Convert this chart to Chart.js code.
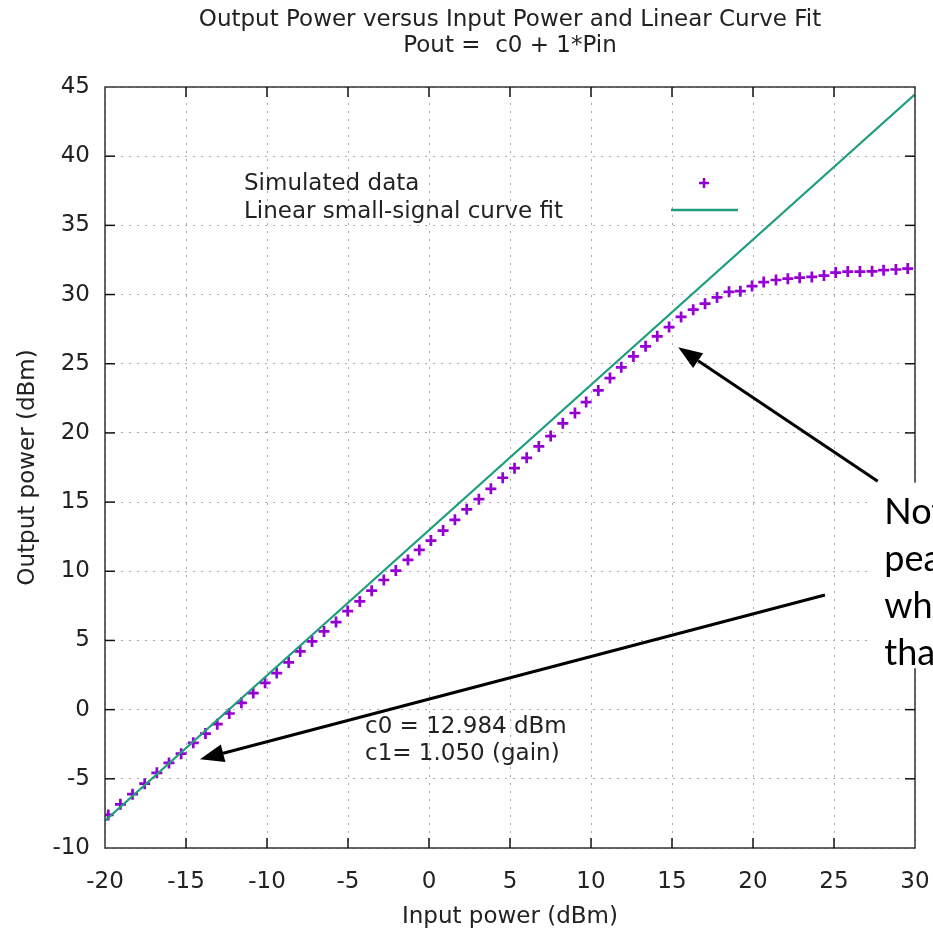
<!DOCTYPE html>
<html>
<head>
<meta charset="utf-8">
<script src="https://cdn.jsdelivr.net/npm/chart.js@4.4.1/dist/chart.umd.min.js"></script>
<style>
  html, body { margin: 0; padding: 0; background: #fff; }
  #wrap { width: 933px; height: 931px; }
</style>
</head>
<body>
<div id="wrap"><canvas id="power-chart" width="933" height="931"></canvas></div>
<script>
// simulated input / output power (dBm)
var pinData = [
    -19.80, -19.05, -18.30, -17.55, -16.80, -16.05, -15.30, -14.55, -13.80, -13.07,
    -12.33, -11.58, -10.85, -10.12, -9.40, -8.66, -7.95, -7.22, -6.48, -5.74,
    -5.02, -4.27, -3.54, -2.79, -2.05, -1.30, -0.60, 0.12, 0.87, 1.60,
    2.33, 3.08, 3.82, 4.55, 5.28, 6.03, 6.78, 7.51, 8.26, 9.01,
    9.70, 10.45, 11.17, 11.87, 12.62, 13.37, 14.09, 14.82, 15.56, 16.31,
    17.04, 17.78, 18.52, 19.22, 19.94, 20.66, 21.42, 22.15, 22.88, 23.63,
    24.38, 25.10, 25.85, 26.60, 27.35, 28.06, 28.82, 29.55
];
var poutData = [
    -7.61, -6.84, -6.11, -5.35, -4.57, -3.85, -3.18, -2.40, -1.73, -1.05,
    -0.28, 0.49, 1.20, 1.94, 2.64, 3.41, 4.21, 4.93, 5.65, 6.33,
    7.12, 7.82, 8.60, 9.37, 10.05, 10.82, 11.54, 12.22, 12.94, 13.72,
    14.48, 15.21, 15.96, 16.76, 17.45, 18.20, 19.02, 19.77, 20.69, 21.44,
    22.23, 23.07, 23.96, 24.74, 25.53, 26.26, 26.98, 27.65, 28.38, 28.91,
    29.34, 29.79, 30.20, 30.24, 30.61, 30.90, 31.05, 31.15, 31.22, 31.27,
    31.37, 31.59, 31.66, 31.66, 31.68, 31.76, 31.81, 31.88
];
// linear small-signal fit, end points
var fitPin = [-20, 30];
var fitPout = [-8.02, 44.48];

var xRange = [-20, 30];
var yRange = [-10, 45];
var tickStep = 5;

var seriesLabels = ["Simulated data", "Linear small-signal curve fit"];
var titleLines = ["Output Power versus Input Power and Linear Curve Fit", "Pout =  c0 + 1*Pin"];
var fitText = ["c0 = 12.984 dBm", "c1= 1.050 (gain)"];
var noteText = ["Not", "pea", "whe", "tha"];

var FONT = "'DejaVu Sans', Verdana, sans-serif";
var PURPLE = "#9400d3";
var GREEN = "#1f9e7f";

function line(ctx, x1, y1, x2, y2) {
    ctx.beginPath();
    ctx.moveTo(x1, y1);
    ctx.lineTo(x2, y2);
    ctx.stroke();
}

function arrow(ctx, x1, y1, x2, y2) {
    var ang = Math.atan2(y2 - y1, x2 - x1);
    var len = 24, half = 9;
    var bx = x2 - len * Math.cos(ang), by = y2 - len * Math.sin(ang);
    ctx.lineWidth = 3;
    line(ctx, x1, y1, bx, by);
    ctx.beginPath();
    ctx.moveTo(x2, y2);
    ctx.lineTo(bx + half * Math.sin(ang), by - half * Math.cos(ang));
    ctx.lineTo(bx - half * Math.sin(ang), by + half * Math.cos(ang));
    ctx.closePath();
    ctx.fill();
}

var gnuplotLook = {
    id: "gnuplotLook",
    beforeDraw: function (chart) {
        var ctx = chart.ctx;
        ctx.save();
        ctx.fillStyle = "#fff";
        ctx.fillRect(0, 0, chart.width, chart.height);
        ctx.restore();
    },
    afterDraw: function (chart) {
        var ctx = chart.ctx, a = chart.chartArea;
        var xs = chart.scales.x, ys = chart.scales.y;
        ctx.save();

        // frame and inward ticks
        ctx.strokeStyle = "#333";
        ctx.lineWidth = 1.5;
        ctx.strokeRect(a.left, a.top, a.right - a.left, a.bottom - a.top);
        ctx.strokeStyle = "#111";
        xs.ticks.forEach(function (t) {
            if (t.value <= xRange[0] || t.value >= xRange[1]) return;
            var px = xs.getPixelForValue(t.value);
            line(ctx, px, a.bottom, px, a.bottom - 10);
            line(ctx, px, a.top, px, a.top + 10);
        });
        ys.ticks.forEach(function (t) {
            if (t.value <= yRange[0] || t.value >= yRange[1]) return;
            var py = ys.getPixelForValue(t.value);
            line(ctx, a.left, py, a.left + 10, py);
            line(ctx, a.right, py, a.right - 10, py);
        });

        // title, centred on the plot
        var cx = (a.left + a.right) / 2;
        ctx.fillStyle = "#222";
        ctx.font = "23px " + FONT;
        ctx.textAlign = "center";
        ctx.textBaseline = "middle";
        ctx.fillText(titleLines[0], cx, 20);
        ctx.fillText(titleLines[1], cx, 46);

        // key
        ctx.textAlign = "left";
        ctx.fillText(seriesLabels[0], a.left + 139, a.top + 97);
        ctx.fillText(seriesLabels[1], a.left + 139, a.top + 125);
        var kx = a.left + 599, ky = a.top + 96;
        ctx.strokeStyle = PURPLE;
        ctx.lineWidth = 2.5;
        line(ctx, kx - 5, ky, kx + 5, ky);
        line(ctx, kx, ky - 5, kx, ky + 5);
        ctx.strokeStyle = GREEN;
        line(ctx, a.left + 566, a.top + 123, a.left + 633, a.top + 123);

        // fit coefficients
        ctx.fillStyle = "#222";
        ctx.textBaseline = "alphabetic";
        ctx.fillText(fitText[0], xs.getPixelForValue(-3.95), ys.getPixelForValue(-1.7));
        ctx.fillText(fitText[1], xs.getPixelForValue(-3.95), ys.getPixelForValue(-3.65));

        // white box behind the note, running off the right edge
        var boxL = xs.getPixelForValue(27.2);
        var boxT = ys.getPixelForValue(16.4);
        var boxB = ys.getPixelForValue(3.0);
        ctx.fillStyle = "#fff";
        ctx.fillRect(boxL, boxT, chart.width - boxL, boxB - boxT);

        // arrows
        ctx.strokeStyle = "#000";
        ctx.fillStyle = "#000";
        arrow(ctx, xs.getPixelForValue(27.7), ys.getPixelForValue(16.5),
                   xs.getPixelForValue(15.38), ys.getPixelForValue(26.19));
        arrow(ctx, xs.getPixelForValue(24.44), ys.getPixelForValue(8.29),
                   xs.getPixelForValue(-14.14), ys.getPixelForValue(-3.59));

        // note text (cut by the page edge)
        ctx.font = "36px Lato, 'Open Sans', sans-serif";
        ctx.fillStyle = "#000";
        var nx = xs.getPixelForValue(28.1);
        var base = [13.4, 10.0, 6.6, 3.2];
        noteText.forEach(function (s, i) {
            ctx.fillText(s, nx, ys.getPixelForValue(base[i]));
        });
        ctx.restore();
    }
};

var simPoints = pinData.map(function (p, i) { return { x: p, y: poutData[i] }; });
var fitPoints = fitPin.map(function (p, i) { return { x: p, y: fitPout[i] }; });

var powerChart = new Chart(document.getElementById("power-chart"), {
    type: "scatter",
    data: {
        datasets: [
            {
                label: seriesLabels[0],
                data: simPoints,
                pointStyle: "cross",
                pointRadius: 5.5,
                pointHoverRadius: 5.5,
                borderColor: PURPLE,
                backgroundColor: PURPLE,
                borderWidth: 2.7,
                showLine: false,
                order: 1,
            },
            {
                label: seriesLabels[1],
                data: fitPoints,
                showLine: true,
                borderColor: GREEN,
                borderWidth: 2.2,
                pointRadius: 0,
                fill: false,
                order: 0,
            },
        ],
    },
    options: {
        responsive: false,
        animation: false,
        events: [],
        layout: { padding: { top: 87, right: 18, left: 0, bottom: 0 } },
        plugins: {
            legend: { display: false },
            title: { display: false },
            tooltip: { enabled: false },
        },
        scales: {
            x: {
                type: "linear",
                min: xRange[0],
                max: xRange[1],
                afterFit: function (s) {
                    s.height = 83;
                    s.paddingLeft = 0;
                    s.paddingRight = 0;
                },
                ticks: {
                    stepSize: tickStep,
                    color: "#222",
                    padding: 20,
                    font: { size: 23, family: FONT },
                },
                grid: { color: "#aaa", lineWidth: 1, drawTicks: false },
                border: { display: false, dash: [2, 6] },
                title: {
                    display: true,
                    text: "Input power (dBm)",
                    color: "#222",
                    padding: { top: 0, bottom: 0 },
                    font: { size: 23, family: FONT },
                },
            },
            y: {
                type: "linear",
                min: yRange[0],
                max: yRange[1],
                afterFit: function (s) {
                    s.width = 105;
                    s.paddingTop = 0;
                    s.paddingBottom = 0;
                },
                ticks: {
                    stepSize: tickStep,
                    color: "#222",
                    padding: 15,
                    font: { size: 23, family: FONT },
                },
                grid: { color: "#aaa", lineWidth: 1, drawTicks: false },
                border: { display: false, dash: [2, 6] },
                title: {
                    display: true,
                    text: "Output power (dBm)",
                    color: "#222",
                    padding: { top: 14, bottom: 0 },
                    font: { size: 23, family: FONT },
                },
            },
        },
    },
    plugins: [gnuplotLook],
});
</script>
</body>
</html>
